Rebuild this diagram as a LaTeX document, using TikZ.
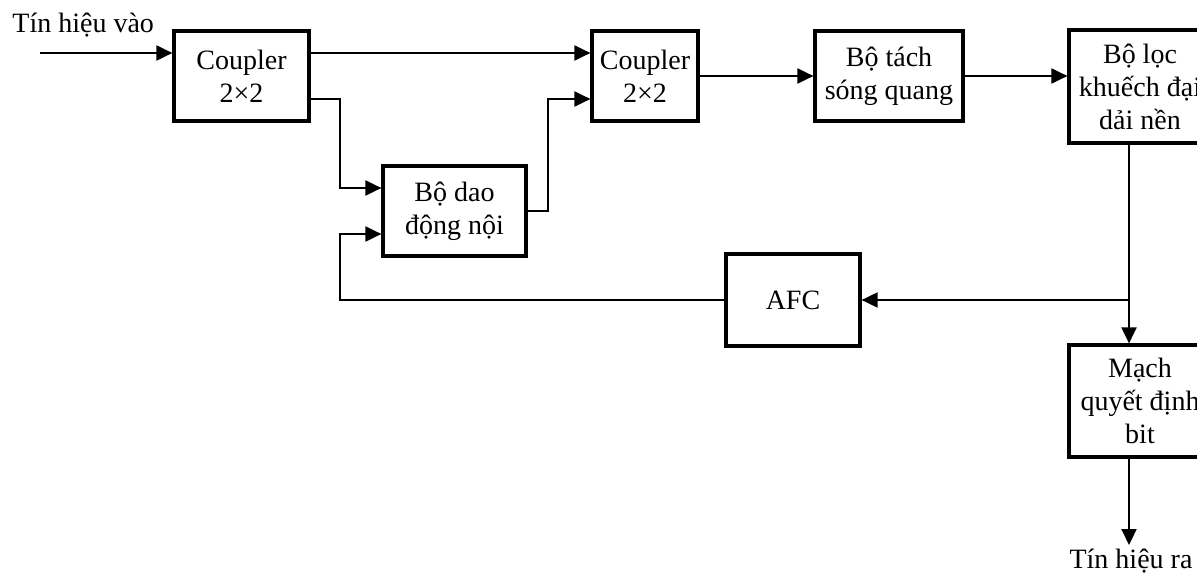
\documentclass[tikz,border=0pt]{standalone}
\usepackage{fontspec}
\setmainfont{Liberation Serif}
\usepackage{tikz}
\usetikzlibrary{arrows.meta, positioning, calc}

\begin{document}
\begin{tikzpicture}[
    x=0.5pt, y=-0.5pt,
    font=\fontsize{14pt}{16.5pt}\selectfont,
    block/.style={
      draw,
      line width=1.6pt,
      align=center,
      inner sep=0pt,
      minimum height=45pt,
    },
    flow/.style={
      line width=1pt,
      -{Triangle[length=8pt,width=7.5pt]},
    },
  ]
    \clip (0,0) rectangle (1197,572);

    % ---- upper row ----
    \node[block, minimum width=67.5pt] (c1) at (241.5,76) {Coupler\\2×2};
    \node[block, minimum width=53pt] (c2) at (645,76) {Coupler\\2×2};
    \node[block, minimum width=74pt] (tach) at (889,76) {Bộ tách\\sóng quang};
    \node[block, minimum width=71pt, minimum height=56.5pt] (loc)
      at (1140,86.5) {Bộ lọc\\khuếch đại\\dải nền};

    % ---- local oscillator and AFC ----
    \node[block, minimum width=71.5pt] (dao) at (454.5,211) {Bộ dao\\động nội};
    \node[block, minimum width=67pt, minimum height=46pt] (afc)
      at (793,300) {AFC};

    % ---- decision ----
    \node[block, minimum width=71pt, minimum height=56pt] (mach)
      at (1140,401) {Mạch\\quyết định\\bit};

    % ---- labels ----
    \node[anchor=base west, inner sep=0pt] (vao) at (12,33) {Tín hiệu vào};
    \node[anchor=base, inner sep=0pt] (ra) at (1131,568) {Tín hiệu ra};

    % ---- ports ----
    \coordinate (inp) at (40,53);
    \coordinate (lx) at (340,0);
    \coordinate (rx) at (548,0);
    \coordinate (tap) at (1129,300);
    \coordinate (outp) at (1129,545);
    \coordinate (c1A) at ([yshift=11.5pt]c1.east);
    \coordinate (c1B) at ([yshift=-11.5pt]c1.east);
    \coordinate (c2A) at ([yshift=11.5pt]c2.west);
    \coordinate (c2B) at ([yshift=-11.5pt]c2.west);
    \coordinate (daoA) at ([yshift=11.5pt]dao.west);
    \coordinate (daoB) at ([yshift=-11.5pt]dao.west);

    % ---- connectors ----
    \draw[flow] (inp) -- (inp -| c1.west);
    \draw[flow] (c1A) -- (c2A);
    \draw[flow] (c1B) -| (lx |- daoA) -- (daoA);
    \draw[flow] (dao.east) -| (rx |- c2B) -- (c2B);
    \draw[flow] (c2.east) -- (tach.west);
    \draw[flow] (tach.east) -- (tach.east -| loc.west);
    \draw[flow] (loc.south -| tap) -- (mach.north -| tap);
    \draw[flow] (tap) -- (afc.east);
    \draw[flow] (afc.west) -| (lx |- daoB) -- (daoB);
    \draw[flow] (mach.south -| tap) -- (outp);
  \end{tikzpicture}
\end{document}
